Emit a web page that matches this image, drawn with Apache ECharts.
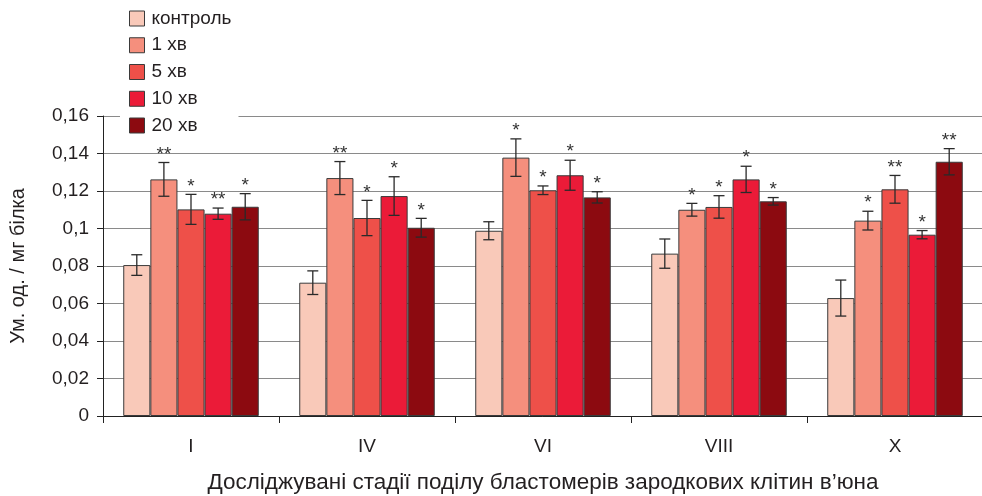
<!DOCTYPE html>
<html>
<head>
<meta charset="utf-8">
<script src="https://cdn.jsdelivr.net/npm/echarts@6/dist/echarts.min.js"></script>
<style>
html,body{margin:0;padding:0;background:#fff;}
#chart{width:982px;height:496px;}
</style>
</head>
<body>
<div id="chart"></div>
<script>
var categories = ['I', 'IV', 'VI', 'VIII', 'X'];
var seriesNames = ['контроль', '1 хв', '5 хв', '10 хв', '20 хв'];

var controlVals = [0.0805, 0.0711, 0.0988, 0.0866, 0.0629];
var min1Vals    = [0.1262, 0.1269, 0.1378, 0.1100, 0.1042];
var min5Vals    = [0.1102, 0.1056, 0.1204, 0.1115, 0.1209];
var min10Vals   = [0.1079, 0.1173, 0.1284, 0.1262, 0.0967];
var min20Vals   = [0.1116, 0.1004, 0.1166, 0.1145, 0.1356];

var controlErr = [0.0055, 0.0063, 0.0048, 0.0078, 0.0096];
var min1Err    = [0.0090, 0.0088, 0.0100, 0.0034, 0.0050];
var min5Err    = [0.0080, 0.0094, 0.0023, 0.0060, 0.0074];
var min10Err   = [0.0030, 0.0103, 0.0080, 0.0070, 0.0022];
var min20Err   = [0.0070, 0.0050, 0.0030, 0.0020, 0.0070];

var controlSig = ['', '', '', '', ''];
var min1Sig    = ['**', '**', '*', '*', '*'];
var min5Sig    = ['*', '*', '*', '*', '**'];
var min10Sig   = ['**', '*', '*', '*', '*'];
var min20Sig   = ['*', '*', '*', '*', '**'];

var yTicks = ['0', '0,02', '0,04', '0,06', '0,08', '0,1', '0,12', '0,14', '0,16'];

var colors = ['#F9C9B9', '#F58F7D', '#EE5049', '#EB1B38', '#8C0A10'];

var allVals = [controlVals, min1Vals, min5Vals, min10Vals, min20Vals];
var allErr = [controlErr, min1Err, min5Err, min10Err, min20Err];
var allSig = [controlSig, min1Sig, min5Sig, min10Sig, min20Sig];

var FONT = "'Liberation Sans', Arial, sans-serif";
var TXT = '#231f20';
var CAT_GAP = 0.23;

var series = [];
allVals.forEach(function (vals, i) {
  series.push({
    name: seriesNames[i],
    type: 'bar',
    data: vals,
    barGap: '0%',
    barCategoryGap: (CAT_GAP * 100) + '%',
    itemStyle: { color: colors[i], borderColor: '#3a3a3a', borderWidth: 1 },
    emphasis: { disabled: true },
    z: 2
  });
});

allVals.forEach(function (vals, i) {
  var data = vals.map(function (v, k) { return [k, v, allErr[i][k], allSig[i][k]]; });
  series.push({
    type: 'custom',
    name: 'err' + i,
    data: data,
    z: 5,
    silent: true,
    encode: { x: 0, y: 1 },
    renderItem: function (params, api) {
      var k = api.value(0);
      var v = api.value(1);
      var e = api.value(2);
      var sig = data[params.dataIndex][3];
      var catW = api.size([1, 0])[0];
      var barW = catW * (1 - CAT_GAP) / 5;
      var c = api.coord([k, v]);
      var x = c[0] + (i - 2) * barW;
      var top = api.coord([k, v + e])[1];
      var bot = api.coord([k, v - e])[1];
      var half = 5.5;
      var st = { stroke: '#2a2a2a', lineWidth: 1.3 };
      var children = [
        { type: 'line', shape: { x1: x, y1: top, x2: x, y2: bot }, style: st },
        { type: 'line', shape: { x1: x - half, y1: top, x2: x + half, y2: top }, style: st },
        { type: 'line', shape: { x1: x - half, y1: bot, x2: x + half, y2: bot }, style: st }
      ];
      if (sig) {
        children.push({
          type: 'text',
          style: {
            x: x, y: top + 1.5, text: sig, align: 'center', verticalAlign: 'bottom',
            fill: '#333', font: '19px ' + FONT
          }
        });
      }
      return { type: 'group', children: children };
    }
  });
});

var chart = echarts.init(document.getElementById('chart'), null, { renderer: 'canvas' });
chart.setOption({
  animation: false,
  backgroundColor: '#fff',
  grid: { left: 103, right: -1, top: 116, bottom: 80, containLabel: false, outerBoundsMode: 'none' },
  legend: {
    data: seriesNames,
    orient: 'vertical',
    left: 120,
    top: 5,
    padding: [4, 7, 4, 9],
    itemGap: 7.75,
    itemWidth: 15,
    itemHeight: 15,
    backgroundColor: '#fff',
    icon: 'rect',
    itemStyle: { borderColor: '#3a3a3a', borderWidth: 1 },
    textStyle: { fontFamily: FONT, fontSize: 19, color: TXT, padding: [0, 0, 0, 2] },
    z: 10
  },
  xAxis: {
    type: 'category',
    data: categories,
    name: 'Досліджувані стадії поділу бластомерів зародкових клітин в’юна',
    nameLocation: 'middle',
    nameGap: 55,
    nameTextStyle: { fontFamily: FONT, fontSize: 22.5, color: TXT },
    axisLine: { lineStyle: { color: '#222', width: 1 } },
    axisTick: { show: true, alignWithLabel: false, length: 7, lineStyle: { color: '#222' } },
    axisLabel: { fontFamily: FONT, fontSize: 19, color: TXT, margin: 21 }
  },
  yAxis: {
    type: 'value',
    min: 0,
    max: 0.16,
    interval: 0.02,
    name: 'Ум. од. / мг білка',
    nameLocation: 'middle',
    nameGap: 75,
    nameRotate: 90,
    nameTextStyle: { fontFamily: FONT, fontSize: 20, color: TXT },
    axisLine: { show: true, lineStyle: { color: '#222', width: 1 } },
    axisTick: { show: true, inside: false, length: 6, lineStyle: { color: '#222' } },
    splitLine: { show: true, lineStyle: { color: '#8a8a8a', width: 1 } },
    axisLabel: {
      fontFamily: FONT, fontSize: 19, color: TXT, margin: 14,
      formatter: function (val) {
        var idx = Math.round(val / 0.02);
        return yTicks[idx];
      }
    }
  },
  series: series
});
</script>
</body>
</html>
